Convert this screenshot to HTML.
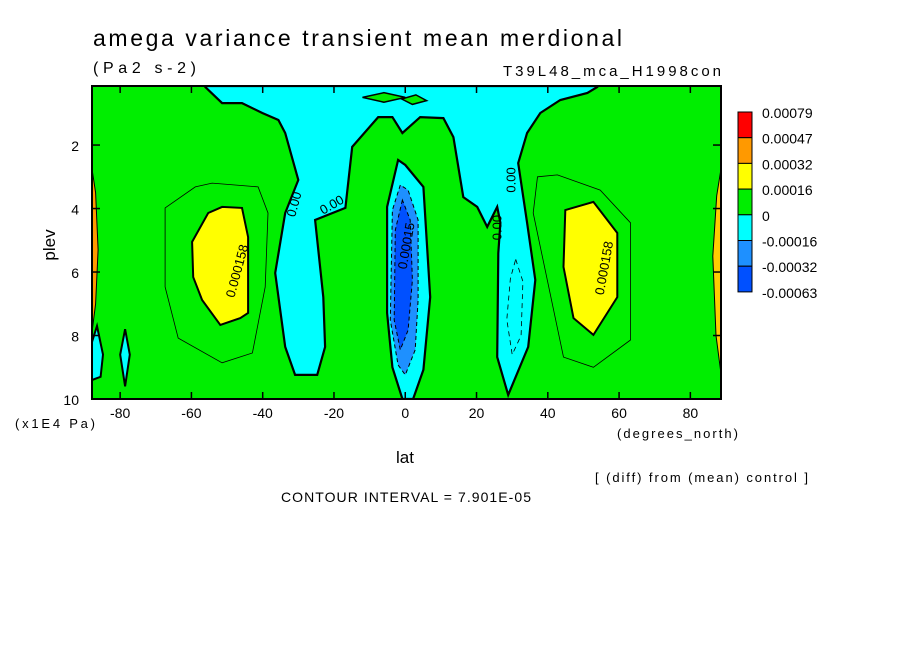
<!DOCTYPE html>
<html><head><meta charset="utf-8"><style>
html,body{margin:0;padding:0;background:#fff;}
svg{display:block;font-family:"Liberation Sans",sans-serif;}
</style></head><body>
<svg id="chart" width="904" height="654" viewBox="0 0 904 654" xmlns="http://www.w3.org/2000/svg">
<text x="93" y="46" font-size="23" fill="#000" textLength="529" lengthAdjust="spacing">amega variance transient mean merdional</text>
<text x="93" y="73" font-size="16" fill="#000" textLength="103" lengthAdjust="spacing">(Pa2 s-2)</text>
<text x="503" y="76" font-size="15" fill="#000" textLength="218" lengthAdjust="spacing">T39L48_mca_H1998con</text>
<g id="plot"></g>
<g id="axes"></g>
<g id="legend"></g>
<text transform="translate(55,245) rotate(-90)" font-size="17" text-anchor="middle">plev</text>
<text x="15" y="428" font-size="13" textLength="80" lengthAdjust="spacing">(x1E4 Pa)</text>
<text x="405" y="463" font-size="17" text-anchor="middle">lat</text>
<text x="617" y="438" font-size="13" textLength="121" lengthAdjust="spacing">(degrees_north)</text>
<text x="595" y="482" font-size="13" textLength="213" lengthAdjust="spacing">[ (diff) from (mean) control ]</text>
<text x="281" y="502" font-size="14" textLength="250" lengthAdjust="spacing">CONTOUR INTERVAL = 7.901E-05</text>
</svg>
<script>
const latMin=-87.9, latMax=88.6, pMin=0.14, pMax=10;
const xTicks=[-80,-60,-40,-20,0,20,40,60,80];
const yTicks=[2,4,6,8,10];
const legendLabels=["0.00079","0.00047","0.00032","0.00016","0","-0.00016","-0.00032","-0.00063"];
const legendColors=["#ff0000","#ff9900","#ffff00","#00ee00","#00ffff","#1e90ff","#0050ff"];
const cyanMain=[[-56.1,0.14],[-56.1,0.17],[-51.4,0.68],[-45.8,0.68],[-40.1,0.99],[-35.6,1.21],[-33.7,1.62],[-30.0,3.1],[-33.7,4.14],[-36.5,6.03],[-33.7,8.36],[-30.9,9.24],[-24.7,9.24],[-22.5,8.36],[-23.0,6.79],[-25.3,4.36],[-16.8,3.98],[-14.9,2.06],[-7.6,1.12],[-3.6,1.12],[-0.8,1.62],[4.2,1.12],[10.7,1.15],[13.5,1.75],[16.3,3.64],[20.2,3.95],[23.0,4.58],[25.8,3.95],[26.7,4.45],[26.1,5.40],[25.8,8.68],[28.9,9.87],[34.5,8.36],[36.5,6.25],[34.2,4.45],[31.7,2.57],[34.2,1.62],[37.9,0.99],[43.5,0.58],[51.1,0.36],[53.9,0.17],[53.9,0.14]];
const cyanEquator=[[-2.0,2.47],[-5.1,3.95],[-5.1,7.29],[-3.6,9.0],[-0.8,10],[2.2,10],[5.1,9.08],[7.0,6.79],[5.1,3.32],[0,2.63]];
const blueMid=[[-1.4,3.26],[-3.6,4.05],[-4.2,7.51],[-2.0,8.93],[0,9.24],[2.8,8.45],[3.6,6.88],[3.6,4.36],[0.8,3.42]];
const blueDark=[[-0.8,3.73],[-2.8,4.68],[-3.1,7.51],[-1.4,8.45],[0.8,7.83],[2.0,6.25],[1.4,4.36]];
const yellowLeft=[[-59.8,5.05],[-55.3,4.14],[-51.4,3.95],[-45.8,3.98],[-44.1,4.90],[-44.1,7.29],[-46.3,7.45],[-51.9,7.67],[-57.0,6.88],[-59.5,6.16]];
const yellowRight=[[44.9,4.05],[52.8,3.79],[59.5,4.77],[59.5,6.79],[52.8,7.98],[47.2,7.45],[44.4,5.84]];
const edgeLeft=[[-87.9,2.75],[-86.9,3.5],[-86.2,5.3],[-86.9,7.0],[-87.9,7.9]];
const edgeRight=[[88.6,2.75],[87.4,3.6],[86.3,5.5],[87.2,8.0],[88.6,9.2]];
const cyanLens1=[[-87.9,8.2],[-86.5,7.7],[-84.8,8.6],[-85.5,9.3],[-87.9,9.4]];
const cyanLens2=[[-78.6,7.8],[-77.3,8.6],[-78.6,9.6],[-80,8.6]];
const greenLens1=[[-12,0.5],[-6,0.35],[0,0.5],[-6,0.65]];
const greenLens2=[[-1,0.55],[3,0.42],[6,0.6],[2,0.72]];
const outerLeft=[[-67.4,3.98],[-58.9,3.32],[-54.2,3.2],[-41.3,3.32],[-38.5,4.14],[-39.3,6.47],[-42.9,8.55],[-51.4,8.86],[-63.7,8.08],[-67.4,6.47]];
const outerRight=[[37.1,3.0],[42.7,2.94],[54.7,3.42],[63.2,4.45],[63.2,8.14],[52.8,9.0],[44.4,8.68],[35.9,4.14]];
const dashRight=[[31,5.6],[33,6.3],[32.5,8.0],[30,8.6],[28.5,7.5],[29.5,6.2]];

const X0=92,X1=721,Y0=86,Y1=399;
const sx=v=>X0+(v-latMin)/(latMax-latMin)*(X1-X0);
const sy=v=>Y0+(v-pMin)/(pMax-pMin)*(Y1-Y0);
const NS="http://www.w3.org/2000/svg";
const plot=document.getElementById('plot'),axes=document.getElementById('axes'),legend=document.getElementById('legend');
function mk(tag,attrs,parent){const e=document.createElementNS(NS,tag);for(const k in attrs)e.setAttribute(k,attrs[k]);parent.appendChild(e);return e;}
const pts=a=>a.map(p=>sx(p[0]).toFixed(1)+','+sy(p[1]).toFixed(1)).join(' ');
const cp=mk('clipPath',{id:'clip'},document.getElementById('chart'));
mk('rect',{x:X0,y:Y0,width:X1-X0,height:Y1-Y0},cp);
plot.setAttribute('clip-path','url(#clip)');
const bg=mk('rect',{x:X0,y:Y0,width:X1-X0,height:Y1-Y0,fill:'#00ee00'},plot);


function poly(arr,fill,stroke,sw,name,dash){const e=mk('polygon',{points:pts(arr),fill:fill,stroke:stroke,'stroke-width':sw},plot);if(dash)e.setAttribute('stroke-dasharray',dash);

return e;}
poly(cyanMain,'#00ffff','#000',2.2,'negative-region-cyan');
poly(greenLens1,'#00ee00','#000',1.5,'top-green-lens');
poly(greenLens2,'#00ee00','#000',1.5,'top-green-lens');
poly(cyanEquator,'#00ffff','#000',2.2,'equator-negative-region');
poly(blueMid,'#1e90ff','#000',1,'equator-blue-region','4,3');
poly(blueDark,'#0050ff','#000',1,'equator-darkblue-region','4,3');
poly(outerLeft,'none','#000',0.8,'contour-line-left');
poly(outerRight,'none','#000',0.8,'contour-line-right');
poly(dashRight,'none','#000',0.8,'dashed-contour-right','5,4');
poly(yellowLeft,'#ffff00','#000',2,'positive-region-left');
poly(yellowRight,'#ffff00','#000',2,'positive-region-right');
poly(edgeLeft,'#ff9900','#000',1,'edge-region-left');
poly(edgeRight,'#ffcc00','#000',1,'edge-region-right');
poly(cyanLens1,'#00ffff','#000',2,'cyan-lens');
poly(cyanLens2,'#00ffff','#000',2,'cyan-lens');
function lbl(t,lat,p,rot,name){const e=mk('text',{x:sx(lat),y:sy(p),'font-size':13,transform:`rotate(${rot} ${sx(lat)} ${sy(p)})`,'text-anchor':'middle',fill:'#000'},plot);e.textContent=t;

}
lbl('0.000158',-46,6.0,-75,'contour-label');
lbl('0.000158',57,5.9,-80,'contour-label');
lbl('0.00',-30,3.9,-75,'contour-label');
lbl('0.00',-20,4.0,-30,'contour-label');
lbl('0.00',27,4.6,-90,'contour-label');
lbl('0.00',31,3.1,-90,'contour-label');
lbl('0.00015',1.5,5.2,-80,'contour-label');
const frame=mk('rect',{x:X0,y:Y0,width:X1-X0,height:Y1-Y0,fill:'none',stroke:'#000','stroke-width':2},axes);


xTicks.forEach(v=>{const x=sx(v);mk('line',{x1:x,x2:x,y1:Y1,y2:Y1-7,stroke:'#000','stroke-width':1.5},axes);mk('line',{x1:x,x2:x,y1:Y0,y2:Y0+7,stroke:'#000','stroke-width':1.5},axes);
const t=mk('text',{x:x,y:Y1+19,'font-size':14,'text-anchor':'middle'},axes);t.textContent=v;

});
yTicks.forEach(v=>{const y=sy(v);mk('line',{x1:X0,x2:X0+8,y1:y,y2:y,stroke:'#000','stroke-width':1.5},axes);mk('line',{x1:X1,x2:X1-8,y1:y,y2:y,stroke:'#000','stroke-width':1.5},axes);
const t=mk('text',{x:X0-13,y:y+6,'font-size':14,'text-anchor':'end'},axes);t.textContent=v;

});
const LX=738,LY=112,LW=14,LH=25.7;
legendColors.forEach((c,i)=>{const r=mk('rect',{x:LX,y:LY+i*LH,width:LW,height:LH,fill:c,stroke:'#000','stroke-width':1},legend);

});
legendLabels.forEach((s,i)=>{const t=mk('text',{x:LX+24,y:LY+i*LH+6,'font-size':14},legend);t.textContent=s;

});
</script>
</body></html>
